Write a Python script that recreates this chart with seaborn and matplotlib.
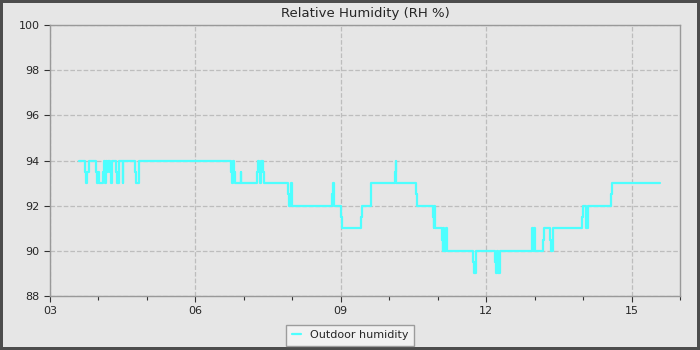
import pandas as pd
import matplotlib
matplotlib.use("Agg")
import matplotlib.pyplot as plt
import matplotlib.dates as mdates
import seaborn as sns

times = [
    "03:36", "03:43", "03:45", "03:46", "03:48", "03:57", "03:58", "04:00", "04:01", "04:05",
    "04:07", "04:08", "04:09", "04:11", "04:12", "04:14", "04:15", "04:17", "04:22", "04:23",
    "04:26", "04:30", "04:31", "04:45", "04:46", "04:50", "06:44", "06:45", "06:46", "06:48",
    "06:49", "06:56", "06:57", "07:16", "07:17", "07:19", "07:20", "07:21", "07:24", "07:25",
    "07:55", "07:56", "07:57", "07:58", "07:59", "08:00", "08:49", "08:50", "08:51", "08:52",
    "09:00", "09:01", "09:25", "09:26", "09:37", "09:38", "10:07", "10:08", "10:09", "10:33",
    "10:34", "10:54", "10:55", "10:56", "10:57", "11:05", "11:06", "11:07", "11:08", "11:10",
    "11:11", "11:12", "11:44", "11:45", "11:47", "12:11", "12:12", "12:14", "12:15", "12:17",
    "12:57", "12:58", "12:59", "13:00", "13:10", "13:11", "13:19", "13:20", "13:23", "13:59",
    "14:00", "14:04", "14:06", "14:35", "14:36", "15:35",
]
humidity = [
    94, 93.5, 93, 93.5, 94, 93.5, 93, 93.5, 93, 93.5,
    94, 93, 94, 93.5, 94, 93.5, 93, 94, 93.5, 93,
    94, 93, 94, 93.5, 93, 94, 93.5, 93, 94, 93.5,
    93, 93.5, 93, 93.5, 94, 93.5, 93, 94, 93.5, 93,
    92.5, 92, 92.5, 93, 92.5, 92, 92.5, 93, 92.5, 92,
    91.5, 91, 91.5, 92, 92.5, 93, 93.5, 94, 93, 92.5,
    92, 91.5, 91, 92, 91, 90.5, 90, 91, 90, 91,
    90.5, 90, 89.5, 89, 90, 89.5, 89, 90, 89, 90,
    91, 90, 91, 90, 90.5, 91, 90.5, 90, 91, 91.5,
    92, 91, 92, 92.5, 93, 93,
]

df = pd.DataFrame({
    "time": pd.to_datetime(["2024-01-01 " + t for t in times]),
    "Outdoor humidity": humidity,
})

sns.set_style("darkgrid", {
    "axes.facecolor": "#e6e6e6",
    "grid.color": "#bdbdbd",
    "grid.linestyle": "--",
    "axes.edgecolor": "#999999",
})
plt.rcParams["font.family"] = ["DejaVu Sans"]

fig = plt.figure(figsize=(7, 3.5), dpi=100, facecolor="#e6e6e6",
                 edgecolor="#4d4d4d", linewidth=3)
ax = fig.add_axes([50 / 700, 1 - 296 / 350, 630 / 700, 271 / 350])

sns.lineplot(data=df, x="time", y="Outdoor humidity", ax=ax, color="#4dffff",
             linewidth=1.6, drawstyle="steps-post", legend=False)

ax.set_xlim(pd.Timestamp("2024-01-01 03:00"), pd.Timestamp("2024-01-01 16:00"))
ax.set_ylim(88, 100)
ax.set_yticks(range(88, 101, 2))
ax.xaxis.set_major_locator(mdates.HourLocator(byhour=[3, 6, 9, 12, 15]))
ax.xaxis.set_minor_locator(mdates.HourLocator())
ax.xaxis.set_major_formatter(mdates.DateFormatter("%H"))
ax.grid(True, which="major", linestyle="--", color="#bdbdbd", linewidth=0.9)
ax.grid(False, which="minor")
ax.tick_params(axis="both", which="major", direction="out", length=4, width=0.8,
               color="#333333", labelsize=8, bottom=True, left=True)
ax.tick_params(axis="x", which="minor", direction="out", length=3, width=0.8,
               color="#333333", bottom=True)
for s in ax.spines.values():
    s.set_color("#999999")
    s.set_linewidth(1)
ax.set_xlabel("")
ax.set_ylabel("")
ax.set_title("Relative Humidity (RH %)", fontsize=9.5, pad=6)

fig.legend(ax.get_lines()[:1], ["Outdoor humidity"], loc="upper center",
           bbox_to_anchor=(0.5, 0.088), frameon=True, fontsize=8,
           facecolor="#f5f5f5", edgecolor="#888888", fancybox=False,
           handlelength=0.8, borderpad=0.5)

fig.savefig("out.png", dpi=100, facecolor=fig.get_facecolor(),
            edgecolor=fig.get_edgecolor())
